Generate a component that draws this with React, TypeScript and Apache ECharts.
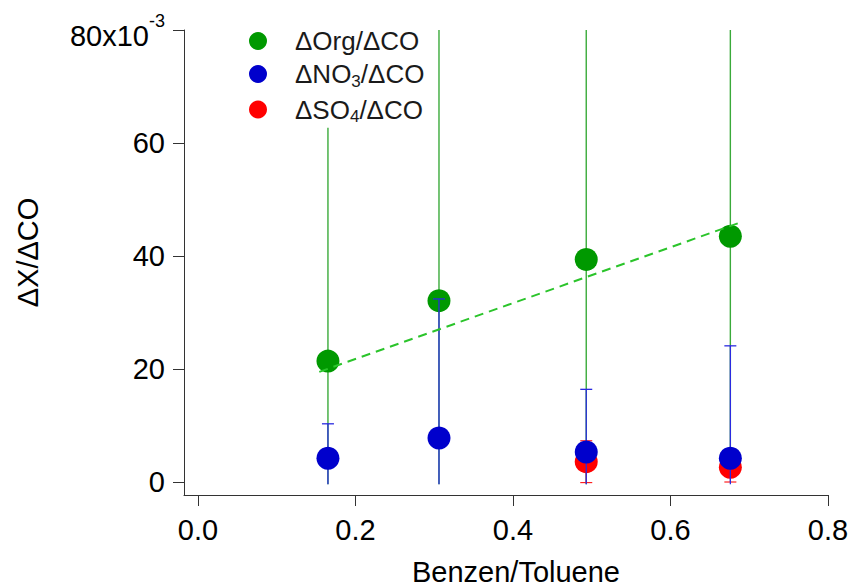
import React, { useEffect, useRef } from "react";
import * as echarts from "echarts";

// ---- data ----
const benzTolRatio = [0.165, 0.306, 0.493, 0.676];
const orgY = [21.4, 32.1, 39.4, 43.5];
const orgErr = [41.3, 50, 45, 42];
const no3Y = [4.2, 7.8, 5.3, 4.2];
const no3Err = [6.1, 24.6, 11.1, 19.9];
const so4X = [0.493, 0.676];
const so4Y = [3.6, 2.6];
const so4Err = [3.7, 2.6];
const fitX = [0.154, 0.692];
const fitY = [19.5, 46.1];
const xTicks = [0, 0.2, 0.4, 0.6, 0.8];
const yTicks = [0, 20, 40, 60, 80];

const NAME_ORG = "ΔOrg/ΔCO";
const NAME_NO3 = "ΔNO3/ΔCO";
const NAME_SO4 = "ΔSO4/ΔCO";

const GREEN = "#009900";
const BLUE = "#0000cc";
const RED = "#ff0000";
const FONT = "'Liberation Sans', Arial, sans-serif";

const CLIP_MIN = -0.4;
const CLIP_MAX = 80;

function errRender(color: string, caps: boolean, width: number) {
  return (params: any, api: any) => {
    const x = api.value(0);
    const lo = api.value(1);
    const hi = api.value(2);
    const loC = Math.max(lo, CLIP_MIN);
    const hiC = Math.min(hi, CLIP_MAX);
    const p1 = api.coord([x, loC]);
    const p2 = api.coord([x, hiC]);
    const style = { stroke: color, lineWidth: width };
    const children: any[] = [
      { type: "line", shape: { x1: p1[0], y1: p1[1], x2: p2[0], y2: p2[1] }, style },
    ];
    const half = 6;
    if (caps && hi <= CLIP_MAX) {
      children.push({ type: "line", shape: { x1: p2[0] - half, y1: p2[1], x2: p2[0] + half, y2: p2[1] }, style });
    }
    if (caps && lo >= CLIP_MIN) {
      children.push({ type: "line", shape: { x1: p1[0] - half, y1: p1[1], x2: p1[0] + half, y2: p1[1] }, style });
    }
    return { type: "group", children };
  };
}

export default function App() {
  const ref = useRef<HTMLDivElement>(null);
  useEffect(() => {
    if (!ref.current) return;
    const chart = echarts.init(ref.current, undefined, { renderer: "svg", width: 853, height: 583 });
    const orgPts = benzTolRatio.map((x, i) => [x, orgY[i]]);
    const no3Pts = benzTolRatio.map((x, i) => [x, no3Y[i]]);
    const so4Pts = so4X.map((x, i) => [x, so4Y[i]]);
    const orgErrData = benzTolRatio.map((x, i) => [x, orgY[i] - orgErr[i], orgY[i] + orgErr[i]]);
    const no3ErrData = benzTolRatio.map((x, i) => [x, no3Y[i] - no3Err[i], no3Y[i] + no3Err[i]]);
    const so4ErrData = so4X.map((x, i) => [x, so4Y[i] - so4Err[i], so4Y[i] + so4Err[i]]);
    const fitData = fitX.map((x, i) => [x, fitY[i]]);

    chart.setOption({
      animation: false,
      textStyle: { fontFamily: FONT },
      grid: { left: 184, right: 25, top: 30, bottom: 88, containLabel: false, outerBoundsMode: "none" },
      legend: {
        data: [NAME_ORG, NAME_NO3, NAME_SO4],
        orient: "vertical",
        left: 244,
        top: 23,
        itemWidth: 64,
        itemHeight: 18,
        itemGap: 7,
        icon: "circle",
        selectedMode: false,
        textStyle: {
          fontFamily: FONT,
          fontSize: 26,
          color: "#1a1a1a",
          rich: {
            t: { fontSize: 26, color: "#1a1a1a", fontFamily: FONT },
            s: { fontSize: 17, color: "#1a1a1a", fontFamily: FONT, padding: [14, 0, 0, 0] },
          },
        },
        formatter: (name: string) => {
          if (name === NAME_NO3) return "{t|ΔNO}{s|3}{t|/ΔCO}";
          if (name === NAME_SO4) return "{t|ΔSO}{s|4}{t|/ΔCO}";
          return "{t|" + name + "}";
        },
      },
      xAxis: {
        type: "value",
        min: -0.0178,
        max: 0.8,
        name: "Benzen/Toluene",
        nameLocation: "middle",
        nameGap: 62,
        nameTextStyle: { fontFamily: FONT, fontSize: 29, color: "#000", padding: [0, 0, 0, 20] },
        axisLine: { show: true, onZero: false, lineStyle: { color: "#333", width: 1 } },
        axisTick: { show: true, inside: false, length: 11, customValues: xTicks, lineStyle: { color: "#333" } },
        axisLabel: {
          customValues: xTicks,
          margin: 20,
          fontSize: 29,
          color: "#000",
          fontFamily: FONT,
          formatter: (v: number) => v.toFixed(1),
        },
        splitLine: { show: false },
      },
      yAxis: {
        type: "value",
        min: -2.3,
        max: 80,
        name: "ΔX/ΔCO",
        nameLocation: "middle",
        nameGap: 142,
        nameRotate: 90,
        nameTextStyle: { fontFamily: FONT, fontSize: 29, color: "#000", padding: [0, 0, 0, 20] },
        axisLine: { show: true, onZero: false, lineStyle: { color: "#333", width: 1 } },
        axisTick: { show: true, inside: false, length: 11, customValues: yTicks, lineStyle: { color: "#333" } },
        axisLabel: {
          customValues: yTicks,
          margin: 19,
          fontSize: 29,
          color: "#000",
          fontFamily: FONT,
          formatter: (v: number) => (v === 80 ? "{m|80x10}{sup|-3}" : "{n|" + v + "}"),
          rich: {
            n: { fontSize: 29, color: "#000", fontFamily: FONT },
            m: { fontSize: 29, color: "#000", fontFamily: FONT, padding: [12, 0, 0, 0] },
            sup: { fontSize: 18, color: "#000", fontFamily: FONT, padding: [0, 0, 18, 0] },
          },
        },
        splitLine: { show: false },
      },
      series: [
        {
          type: "custom",
          name: "orgErr",
          data: orgErrData,
          renderItem: errRender("#3aaa3a", false, 1.4),
          z: 1,
          silent: true,
        },
        {
          type: "scatter",
          name: NAME_ORG,
          data: orgPts,
          symbol: "circle",
          symbolSize: 23,
          itemStyle: { color: GREEN, opacity: 1 },
          z: 2,
        },
        {
          type: "custom",
          name: "so4Err",
          data: so4ErrData,
          renderItem: errRender("#ff2020", true, 1.2),
          z: 3,
          silent: true,
        },
        {
          type: "scatter",
          name: NAME_SO4,
          data: so4Pts,
          symbol: "circle",
          symbolSize: 23,
          itemStyle: { color: RED, opacity: 1 },
          z: 4,
        },
        {
          type: "custom",
          name: "no3Err",
          data: no3ErrData,
          renderItem: errRender("#2a2ae0", true, 1.3),
          z: 5,
          silent: true,
        },
        {
          type: "scatter",
          name: NAME_NO3,
          data: no3Pts,
          symbol: "circle",
          symbolSize: 23,
          itemStyle: { color: BLUE, opacity: 1 },
          z: 6,
        },
        {
          type: "line",
          name: "fit",
          data: fitData,
          symbol: "none",
          lineStyle: { color: "#2bc42b", width: 2, type: [9, 6] },
          z: 7,
          silent: true,
        },
      ],
    });
    return () => chart.dispose();
  }, []);
  return (
    <div
      ref={ref}
      style={{ position: "fixed", left: 0, top: 0, width: 853, height: 583, background: "#fff" }}
    />
  );
}
